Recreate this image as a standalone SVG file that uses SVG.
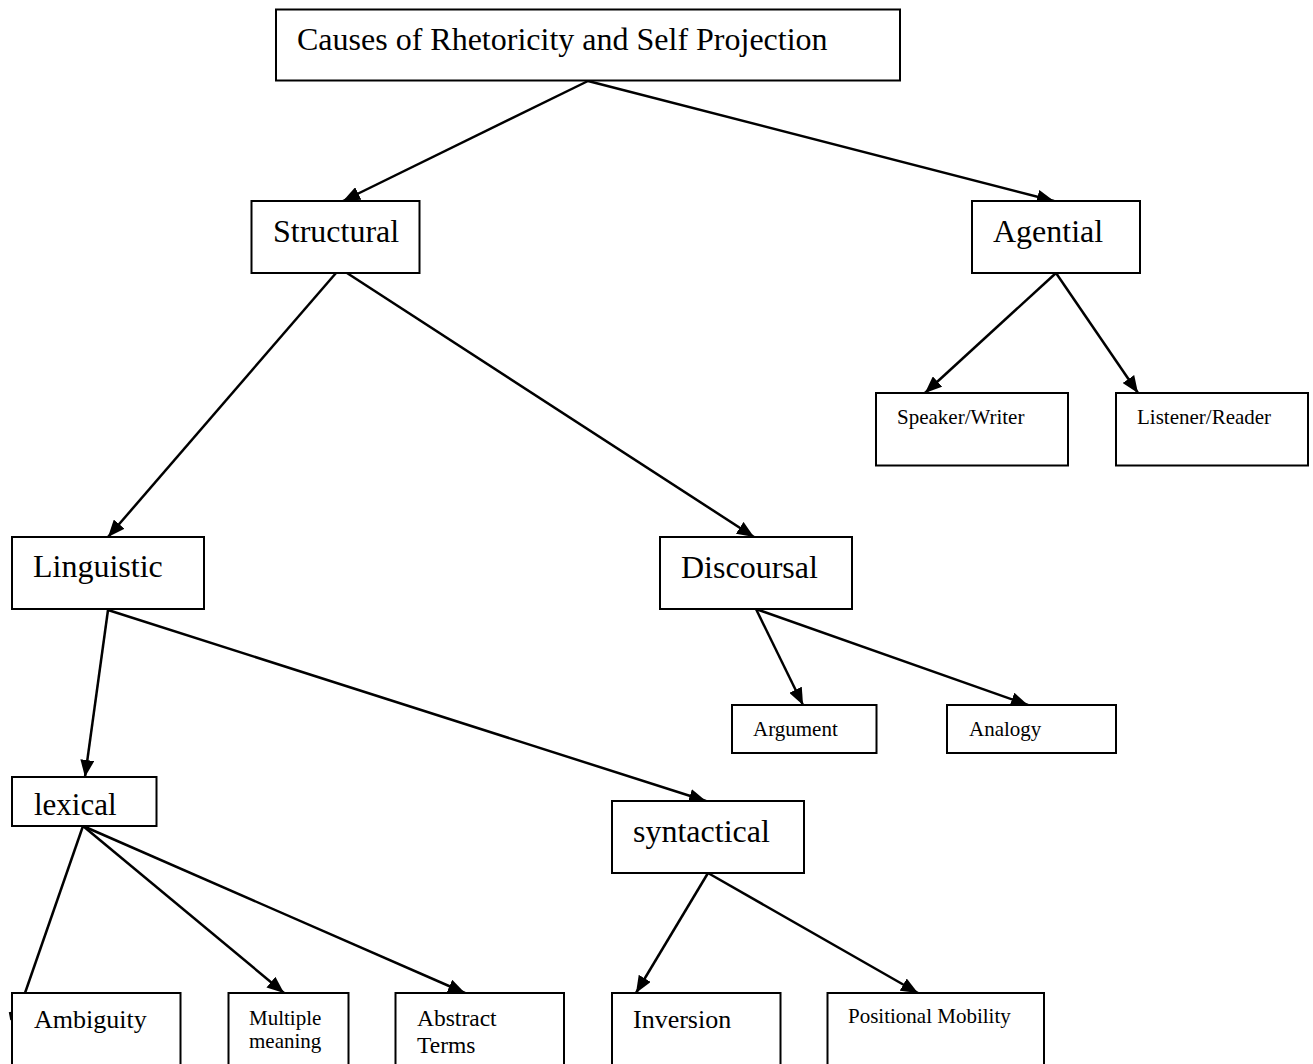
<svg xmlns="http://www.w3.org/2000/svg" width="1313" height="1064" viewBox="0 0 1313 1064">
<style>
  .box { fill: #ffffff; stroke: #000000; stroke-width: 2; }
  .edge { fill: none; stroke: #000000; stroke-width: 2.5; }
  .arr { marker-end: url(#ah); }
  text { font-family: "Liberation Serif", "Times New Roman", serif; fill: #000000; }
  .big { font-size: 32px; }
  .mid { font-size: 26px; }
  .sm { font-size: 21px; }
</style>
<defs>
  <marker id="ah" markerUnits="userSpaceOnUse" markerWidth="18" markerHeight="14" refX="17" refY="7" orient="auto">
    <path d="M0,0 L17,7 L0,14 z" fill="#000000"/>
  </marker>
</defs>
<rect width="1313" height="1064" fill="#ffffff"/>

<g id="connectors">
  <line class="edge arr" x1="588" y1="81" x2="343" y2="201"/>
  <line class="edge arr" x1="588" y1="81" x2="1054" y2="201"/>
  <line class="edge arr" x1="1056" y1="273" x2="925" y2="393"/>
  <line class="edge arr" x1="1056" y1="273" x2="1138" y2="393"/>
  <line class="edge arr" x1="336" y1="273" x2="108" y2="537"/>
  <line class="edge arr" x1="347" y1="273" x2="754" y2="537"/>
  <line class="edge arr" x1="756" y1="609" x2="803" y2="705"/>
  <line class="edge arr" x1="756" y1="609" x2="1028" y2="705"/>
  <line class="edge arr" x1="108" y1="610" x2="85" y2="777"/>
  <line class="edge arr" x1="108" y1="610" x2="706" y2="801"/>
  <line class="edge" x1="83" y1="826" x2="25" y2="993"/>
  <line class="edge arr" x1="83" y1="826" x2="284" y2="993"/>
  <line class="edge arr" x1="83" y1="826" x2="465" y2="993"/>
  <line class="edge arr" x1="708" y1="873" x2="636" y2="993"/>
  <line class="edge arr" x1="708" y1="873" x2="918" y2="993"/>
  <line class="edge" x1="10" y1="1012" x2="11.5" y2="1020"/>
</g>

<g id="node-root">
  <rect class="box" x="276" y="9.5" width="624" height="71"/>
  <text class="big" x="297" y="50">Causes of Rhetoricity and Self Projection</text>
</g>
<g id="node-structural">
  <rect class="box" x="251.5" y="201" width="168" height="72"/>
  <text class="big" x="273" y="242">Structural</text>
</g>
<g id="node-agential">
  <rect class="box" x="972" y="201" width="168" height="72"/>
  <text class="big" x="993" y="242">Agential</text>
</g>
<g id="node-speaker">
  <rect class="box" x="876" y="393" width="192" height="72.5"/>
  <text class="sm" x="897" y="424">Speaker/Writer</text>
</g>
<g id="node-listener">
  <rect class="box" x="1116" y="393" width="192" height="72.5"/>
  <text class="sm" x="1137" y="424">Listener/Reader</text>
</g>
<g id="node-linguistic">
  <rect class="box" x="12" y="537" width="192" height="72"/>
  <text class="big" x="33" y="577">Linguistic</text>
</g>
<g id="node-discoursal">
  <rect class="box" x="660" y="537" width="192" height="72"/>
  <text class="big" x="681" y="578">Discoursal</text>
</g>
<g id="node-argument">
  <rect class="box" x="732" y="705" width="144.5" height="48"/>
  <text class="sm" x="753" y="736">Argument</text>
</g>
<g id="node-analogy">
  <rect class="box" x="947" y="705" width="169" height="48"/>
  <text class="sm" x="969" y="736">Analogy</text>
</g>
<g id="node-lexical">
  <rect class="box" x="12" y="777" width="144.5" height="49"/>
  <text class="big" x="34" y="815" style="font-size:31px">lexical</text>
</g>
<g id="node-syntactical">
  <rect class="box" x="612" y="801" width="192" height="72"/>
  <text class="big" x="633" y="842">syntactical</text>
</g>
<g id="node-ambiguity">
  <rect class="box" x="12" y="993" width="168.5" height="100"/>
  <text class="mid" x="34" y="1028">Ambiguity</text>
</g>
<g id="node-multiple">
  <rect class="box" x="228.5" y="993" width="120" height="100"/>
  <text class="sm" x="249" y="1025">Multiple</text>
  <text class="sm" x="249" y="1048">meaning</text>
</g>
<g id="node-abstract">
  <rect class="box" x="395.5" y="993" width="168.5" height="100"/>
  <text x="417" y="1026" style="font-size:23.5px">Abstract</text>
  <text x="417" y="1053" style="font-size:23.5px">Terms</text>
</g>
<g id="node-inversion">
  <rect class="box" x="612" y="993" width="168.5" height="100"/>
  <text class="mid" x="633" y="1028">Inversion</text>
</g>
<g id="node-positional">
  <rect class="box" x="827.5" y="993" width="216.5" height="100"/>
  <text class="sm" x="848" y="1023">Positional Mobility</text>
</g>
</svg>
